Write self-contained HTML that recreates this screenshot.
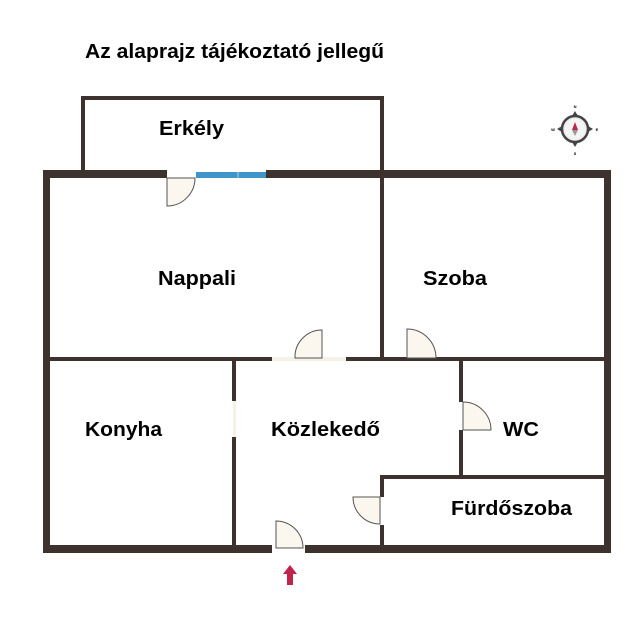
<!DOCTYPE html>
<html><head><meta charset="utf-8"><style>
html,body{margin:0;padding:0;background:#fff;width:640px;height:617px;overflow:hidden}
svg{display:block}
text{font-family:"Liberation Sans",sans-serif;font-weight:bold;fill:#000}
</style></head><body>
<svg width="640" height="617" viewBox="0 0 640 617" xmlns="http://www.w3.org/2000/svg">
<text x="85" y="58" font-size="20" textLength="299" lengthAdjust="spacingAndGlyphs">Az alaprajz tájékoztató jellegű</text>
<g fill="#3d322d">
<rect x="81" y="96" width="303" height="4"/>
<rect x="81" y="96" width="4" height="78"/>
<rect x="380" y="96" width="4" height="78"/>
<rect x="43" y="170" width="124" height="8"/>
<rect x="266" y="170" width="345" height="8"/>
<rect x="43" y="170" width="7" height="383"/>
<rect x="604" y="170" width="7" height="383"/>
<rect x="43" y="545" width="229" height="8"/>
<rect x="305" y="545" width="306" height="8"/>
<rect x="380" y="178" width="4" height="183"/>
<rect x="50" y="357" width="222" height="4"/>
<rect x="346" y="357" width="258" height="4"/>
<rect x="232" y="357" width="4" height="44"/>
<rect x="232" y="437" width="4" height="108"/>
<rect x="459" y="357" width="4" height="45"/>
<rect x="459" y="430" width="4" height="47"/>
<rect x="381" y="475" width="223" height="4"/>
<rect x="380" y="475" width="4" height="22"/>
<rect x="380" y="525" width="4" height="20"/>
</g>
<rect x="196" y="172" width="70" height="6" fill="#3f95c8"/>
<line x1="238" y1="172" x2="238" y2="178" stroke="#bcd" stroke-width="1"/>
<rect x="272" y="357" width="74" height="4" fill="#f6f0e6"/>
<rect x="233" y="401" width="3" height="36" fill="#f6f0e6"/>
<g fill="#fbf6ee" stroke="#555" stroke-width="1">
<path d="M167 178 L167 206 A28 28 0 0 0 195 178 Z"/>
<path d="M322 358 L322 330 A27 27 0 0 0 295 358 Z"/>
<path d="M407 358 L407 329 A29 29 0 0 1 436 358 Z"/>
<path d="M463 402 L463 430 L491 430 A28 28 0 0 0 463 402 Z"/>
<path d="M380 497 L353 497 A27 27 0 0 0 380 524 Z"/>
<path d="M276 548 L276 521 A27 27 0 0 1 303 548 Z"/>
</g>
<path d="M290 565 L297 574 L293 574 L293 585 L287 585 L287 574 L283 574 Z" fill="#c0244a"/>
<g transform="translate(575,129)">
<circle r="13" fill="#eee" stroke="#444" stroke-width="2.5"/>
<circle r="10" fill="#f4f4f4"/>
<path d="M0 -18 L3 -13 L-3 -13Z M0 18 L3 13 L-3 13Z M-18 0 L-13 3 L-13 -3Z M18 0 L13 3 L13 -3Z" fill="#444"/>
<path d="M0 -7 L3 1 L-3 1Z" fill="#c0244a"/>
<path d="M0 7 L3 1 L-3 1Z" fill="#999"/>
<text x="0" y="-21" font-size="4" text-anchor="middle" font-weight="normal">N</text>
<text x="0" y="26" font-size="4" text-anchor="middle" font-weight="normal">S</text>
<text x="-22" y="2" font-size="4" text-anchor="middle" font-weight="normal">W</text>
<text x="22" y="2" font-size="4" text-anchor="middle" font-weight="normal">E</text>
</g>
<g font-size="20" lengthAdjust="spacingAndGlyphs">
<text x="159" y="135" textLength="65" lengthAdjust="spacingAndGlyphs">Erkély</text>
<text x="158" y="285" textLength="78" lengthAdjust="spacingAndGlyphs">Nappali</text>
<text x="423" y="285" textLength="64" lengthAdjust="spacingAndGlyphs">Szoba</text>
<text x="85" y="436" textLength="77" lengthAdjust="spacingAndGlyphs">Konyha</text>
<text x="271" y="436" textLength="109" lengthAdjust="spacingAndGlyphs">Közlekedő</text>
<text x="503" y="436" textLength="36" lengthAdjust="spacingAndGlyphs">WC</text>
<text x="451" y="515" textLength="121" lengthAdjust="spacingAndGlyphs">Fürdőszoba</text>
</g>
</svg>
</body></html>
